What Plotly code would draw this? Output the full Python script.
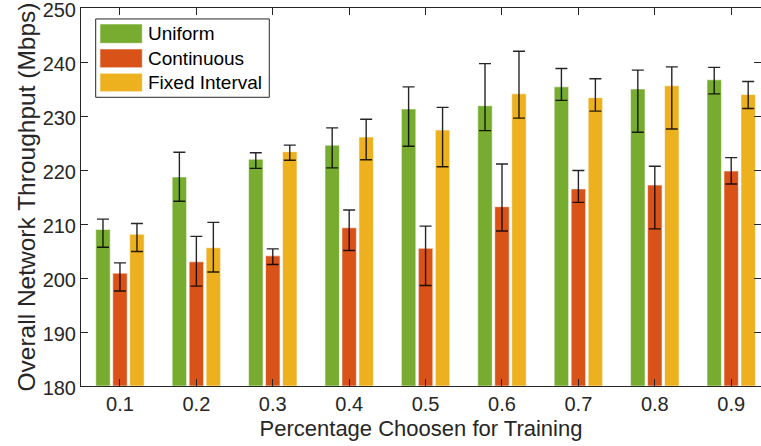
import plotly.graph_objects as go

categories = ["0.1", "0.2", "0.3", "0.4", "0.5", "0.6", "0.7", "0.8", "0.9"]
series_names = ["Uniform", "Continuous", "Fixed Interval"]

uniform = [209.0, 218.7, 222.0, 224.6, 231.3, 231.9, 235.4, 235.0, 236.7]
uniform_hi = [210.9, 223.3, 223.2, 227.8, 235.4, 239.7, 238.8, 238.5, 239.0]
uniform_lo = [205.7, 214.2, 220.3, 220.4, 224.4, 227.3, 232.9, 227.0, 234.1]

continuous = [200.9, 203.0, 204.1, 209.3, 205.5, 213.2, 216.5, 217.2, 219.8]
continuous_hi = [202.8, 207.7, 205.4, 212.6, 209.6, 221.1, 219.9, 220.7, 222.3]
continuous_lo = [197.6, 198.5, 202.5, 205.1, 198.6, 208.7, 214.0, 209.1, 217.4]

fixed = [208.1, 205.6, 223.4, 226.1, 227.4, 234.1, 233.4, 235.6, 234.0]
fixed_hi = [210.1, 210.3, 224.6, 229.4, 231.6, 242.0, 236.9, 239.1, 236.4]
fixed_lo = [204.9, 201.1, 221.8, 221.9, 220.6, 229.6, 230.9, 227.6, 231.4]

y_ticks = [180, 190, 200, 210, 220, 230, 240, 250]

colors = ["#77AC30", "#D95319", "#EDB120"]
axis_color = "#262626"
font_family = "Liberation Sans, Arial, sans-serif"

x_pos = list(range(1, len(categories) + 1))
data = [(uniform, uniform_hi, uniform_lo),
        (continuous, continuous_hi, continuous_lo),
        (fixed, fixed_hi, fixed_lo)]

fig = go.Figure()
for name, color, (vals, hi, lo) in zip(series_names, colors, data):
    fig.add_trace(go.Bar(
        x=x_pos, y=[v - 180 for v in vals], base=180, name=name,
        marker=dict(color=color, line=dict(color="rgba(255,255,255,0.55)", width=1)),
        error_y=dict(type="data", symmetric=False,
                     array=[h - v for h, v in zip(hi, vals)],
                     arrayminus=[v - l for v, l in zip(vals, lo)],
                     color="rgba(0,0,0,0.85)", thickness=1.4, width=6),
        showlegend=False,
    ))

# custom MATLAB-like legend (paper coordinates)
shapes = [dict(type="rect", xref="paper", yref="paper", x0=0.0216, x1=0.2769,
               y0=0.7638, y1=0.971, line=dict(color=axis_color, width=1),
               fillcolor="white", layer="above")]
annotations = []
patch_rows = [(0.9066, 0.9577), (0.8421, 0.8915), (0.7786, 0.8272)]
for name, color, (y0, y1) in zip(series_names, colors, patch_rows):
    shapes.append(dict(type="rect", xref="paper", yref="paper", x0=0.0279, x1=0.0901,
                       y0=y0, y1=y1, fillcolor=color,
                       line=dict(color="rgba(255,255,255,0.55)", width=1), layer="above"))
    annotations.append(dict(xref="paper", yref="paper", x=0.0956, y=(y0 + y1) / 2,
                            text=name, showarrow=False, xanchor="left", yanchor="middle",
                            font=dict(size=19, color="black", family=font_family)))

fig.update_layout(
    width=761, height=446,
    margin=dict(l=81, r=0, t=8, b=60),
    paper_bgcolor="white", plot_bgcolor="white",
    barmode="group", bargap=0.333, bargroupgap=0.15,
    font=dict(family=font_family, color=axis_color),
    shapes=shapes, annotations=annotations,
    xaxis=dict(range=[0.49, 9.39], tickmode="array", tickvals=x_pos, ticktext=categories,
               ticks="inside", ticklen=7, tickcolor=axis_color, tickwidth=1,
               showline=True, linecolor=axis_color, linewidth=1, mirror="ticks",
               showgrid=False, zeroline=False, automargin=False, ticklabeloverflow="allow",
               tickfont=dict(size=20, color=axis_color),
               title=dict(text="Percentage Choosen for Training", font=dict(size=22, color=axis_color),
                          standoff=6)),
    yaxis=dict(range=[180, 250], tickmode="array", tickvals=y_ticks,
               ticks="inside", ticklen=7, tickcolor=axis_color, tickwidth=1,
               showline=True, linecolor=axis_color, linewidth=1, mirror="ticks",
               showgrid=False, zeroline=False, automargin=False, ticklabeloverflow="allow",
               ticklabelshift=2,
               tickfont=dict(size=20, color=axis_color),
               title=dict(text="Overall Network Throughput (Mbps)", font=dict(size=24.5, color=axis_color),
                          standoff=0)),
)

fig.write_html("out.html", config={"displayModeBar": False},
               post_script="document.body.style.margin='0';document.body.style.overflow='hidden';")
